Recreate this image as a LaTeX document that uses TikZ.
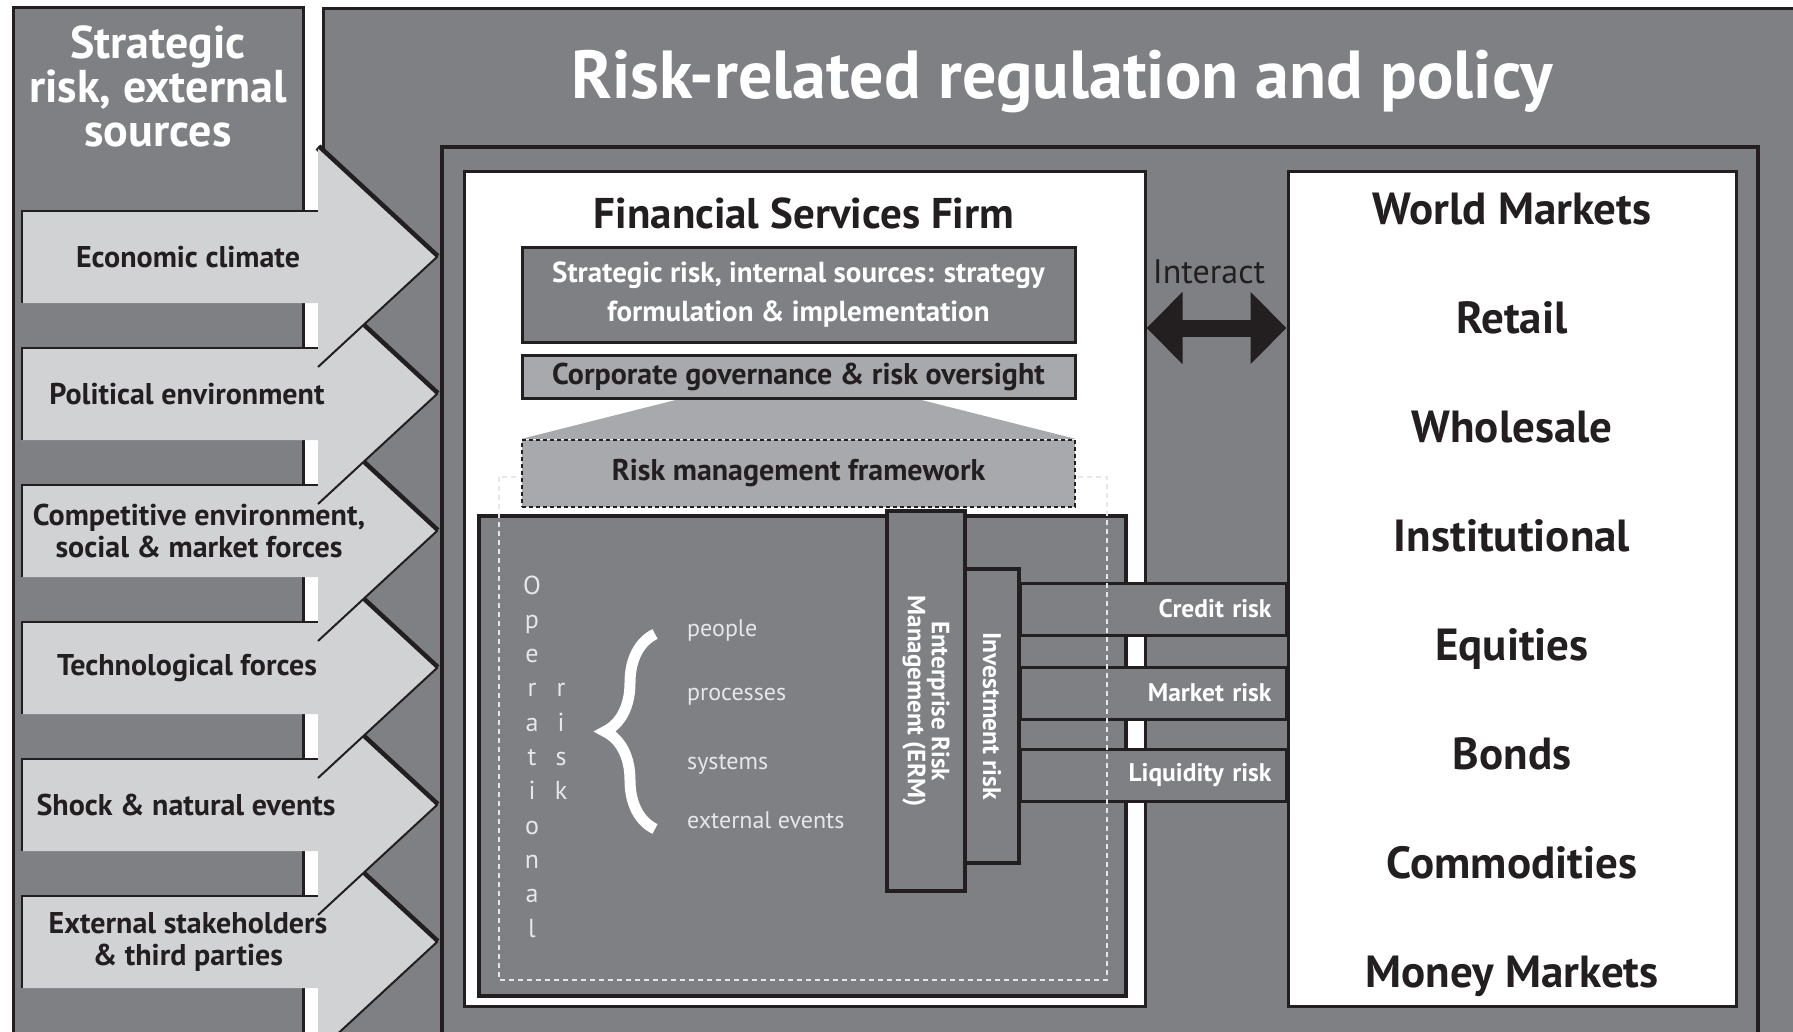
\documentclass[tikz,border=0pt]{standalone}
\usepackage{fontspec}
\setmainfont{PT Sans}
\usetikzlibrary{arrows.meta,positioning,decorations.pathreplacing}

\newcommand{\fsz}[1]{\fontsize{#1}{#1}\selectfont}

\begin{document}
\begin{tikzpicture}[x=1pt,y=-1pt,
  panel/.style={fill=panelgray,draw=inkdark,line width=3pt},
  whitebox/.style={fill=white,draw=inkdark,line width=3pt},
  darkbox/.style={fill=panelgray,draw=inkdark,line width=3pt,text=white,align=center},
  lightbox/.style={fill=boxgray,draw=inkdark,line width=3pt,text=inkdark,font=\bfseries\fsz{30}},
  rmfbox/.style={fill=boxgray,draw=inkdark,line width=2pt,dash pattern=on 4pt off 3pt,text=inkdark,font=\bfseries\fsz{30}},
  opbox/.style={fill=panelgray,draw=inkdark,line width=4pt},
  opbound/.style={draw=paletext,line width=1.5pt,dash pattern=on 5pt off 4pt},
  vbox/.style={fill=panelgray,draw=inkdark,line width=3.5pt,text=white,rotate=-90,align=center},
  riskbar/.style={fill=panelgray,draw=inkdark,line width=3pt,text=white,font=\bfseries\fsz{25.5},anchor=west,minimum height=52pt,text width=236pt,align=right,inner xsep=15pt},
  forcelabel/.style={text=inkdark,font=\bfseries\fontsize{30}{32}\selectfont,align=center},
  forcebody/.style={fill=forcegray},
  forceedge/.style={draw=inkdark,line width=2pt},
  forceshade/.style={draw=inkdark,line width=7pt},
  optext/.style={text=paletext,font=\fsz{26},anchor=base,inner sep=0pt},
  opitem/.style={text=paletext,font=\fsz{24},anchor=west,inner sep=0pt},
  opbrace/.style={draw=white,line width=11pt,decorate,decoration={brace,amplitude=50pt}},
  market/.style={text=inkdark,font=\bfseries\fsz{45},anchor=base},
  interarrow/.style={draw=inkdark,line width=17pt,arrows={Triangle[width=70pt,length=36pt]-Triangle[width=70pt,length=36pt]}}
]
% greys of the scheme
\definecolor{panelgray}{HTML}{7F8084}
\definecolor{forcegray}{HTML}{D1D2D4}
\definecolor{boxgray}{HTML}{A7A9AC}
\definecolor{inkdark}{HTML}{231F20}
\definecolor{paletext}{HTML}{E6E7E8}

\useasboundingbox (0,0) rectangle (1793,1031);
\clip (0,0) rectangle (1793,1031);
\fill[white] (0,0) rectangle (1793,1031);

% outer panels
\draw[panel] (13,7) rectangle (303,1050);
\draw[panel] (323,8) rectangle (1815,1050);
\draw[draw=inkdark,line width=4pt] (442,147) rectangle (1758,1050);
\node[text=white,font=\bfseries\fsz{68},anchor=base] (regtitle) at (1062,98) {Risk-related regulation and policy};

% firm and markets
\node[whitebox,minimum width=681pt,minimum height=835pt] (firm) at (804.5,588.5) {};
\node[whitebox,minimum width=448pt,minimum height=835pt] (world) at (1512,588.5) {};
\node[text=inkdark,font=\bfseries\fsz{43},anchor=base] (firmtitle) at (804,228) {Financial Services Firm};

\node[darkbox,minimum width=553pt,minimum height=95pt,font=\bfseries\fontsize{29}{39}\selectfont] (stratint) at (798.5,294.5)
  {Strategic risk, internal sources: strategy\\formulation \& implementation};
\node[rmfbox,minimum width=553pt,minimum height=67pt] (rmf) at (798.5,473.5) {};
\fill[boxgray] ([xshift=-115pt]798.5,398) -- ([xshift=115pt]798.5,398) -- (rmf.north east) -- (rmf.north west) -- cycle;
\node[lightbox,minimum width=553pt,minimum height=43pt] (corp) at (798.5,376.5) {Corporate governance \& risk oversight};

% operational risk block
\node[opbox,minimum width=647pt,minimum height=480pt] (oprisk) at (802.5,756) {};
\node[vbox,minimum width=380pt,minimum height=78pt,font=\bfseries\fontsize{25}{22}\selectfont] (erm) at (926,701) {Enterprise Risk\\Management (ERM)};
\node[vbox,minimum width=294pt,minimum height=54pt,font=\bfseries\fsz{25.5}] (invest) at (992,716) {Investment risk};
\node[riskbar] (credit) at (1019,609) {Credit risk};
\node[riskbar] (marketrisk) at (1019,693) {Market risk};
\node[riskbar] (liquidity) at (1019,775) {Liquidity risk};
\draw[opbound] (499,477) rectangle (1107,980);
\node[rmfbox,minimum width=553pt,minimum height=67pt] (rmflabel) at (798.5,473.5) {Risk management framework};

\foreach \ch [count=\i from 0] in {O,p,e,r,a,t,i,o,n,a,l}
  \node[optext] (oper\i) at (532,594+34.3*\i) {\ch};
\foreach \ch [count=\i from 3] in {r,i,s,k}
  \node[optext] (risk\i) at (561,594+34.3*\i) {\ch};
\draw[opbrace] (655,829) -- (655,634);
\node[opitem] (people) at (687,630) {people};
\node[opitem] (processes) at (687,697) {processes};
\node[opitem] (systems) at (687,764) {systems};
\node[opitem] (events) at (687,820) {external events};

% interaction with the markets
\node[text=inkdark,font=\fsz{34}] (interact) at (1209,272) {Interact};
\coordinate (iact) at (1200,328);
\draw[interarrow] (firm.east |- iact) -- (world.west |- iact);

\foreach \mk [count=\i from 0] in {World Markets,Retail,Wholesale,Institutional,Equities,Bonds,Commodities,Money Markets}
  \node[market] (mkt\i) at (1512,224+109.1*\i) {\mk};

% external sources, drawn bottom up
\node[text=white,font=\bfseries\fontsize{46}{44}\selectfont,align=center] (extsrc) at (158,86) {Strategic\\risk, external\\sources};
\foreach \k/\lx/\lbl in {5/188/{External stakeholders\\\& third parties},
                         4/186/{Shock \& natural events},
                         3/187/{Technological forces},
                         2/199/{Competitive environment,\\social \& market forces},
                         1/187/{Political environment},
                         0/188/{Economic climate}}{
  \pgfmathsetmacro{\yc}{257+137*\k}
  \draw[forceshade] (318,\yc-110) -- (437,\yc);
  \fill[forcebody] (22,\yc-46) -- (318,\yc-46) -- (318,\yc-110) -- (437,\yc)
    -- (318,\yc+110) -- (318,\yc+46) -- (22,\yc+46) -- cycle;
  \draw[forceedge] (22,\yc+46) -- (22,\yc-46) -- (318,\yc-46);
  \draw[forceedge] (318,\yc-110) -- (437,\yc) -- (318,\yc+110);
  \node[forcelabel] (force\k) at (\lx,\yc) {\lbl};
}
\end{tikzpicture}
\end{document}
